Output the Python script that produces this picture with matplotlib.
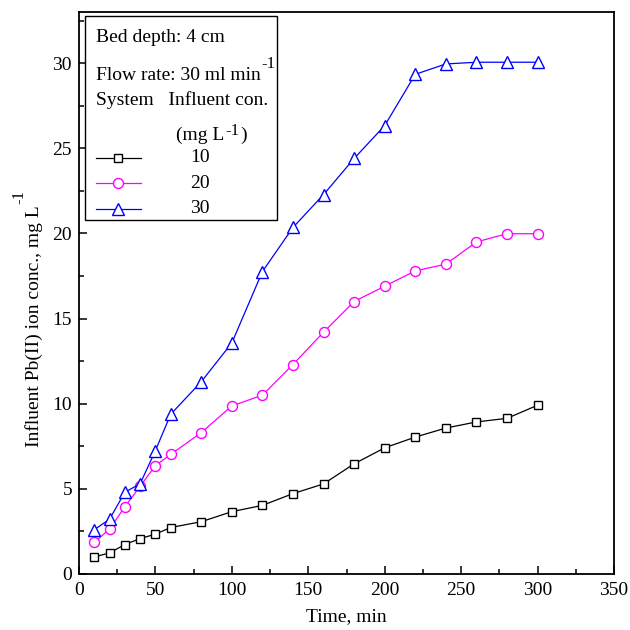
import matplotlib
matplotlib.use("Agg")
import matplotlib.pyplot as plt
from matplotlib.lines import Line2D
from matplotlib.patches import Rectangle

plt.rcParams['font.family'] = ['Liberation Serif', 'DejaVu Serif']

time = [10, 20, 30, 40, 50, 60, 80, 100, 120, 140, 160, 180, 200, 220, 240, 260, 280, 300]
c10 = [1.0, 1.24, 1.73, 2.08, 2.34, 2.73, 3.07, 3.66, 4.03, 4.72, 5.29, 6.47, 7.41, 8.04, 8.57, 8.93, 9.14, 9.91]
c20 = [1.85, 2.64, 3.95, 5.15, 6.37, 7.02, 8.3, 9.87, 10.5, 12.3, 14.2, 16.0, 16.9, 17.8, 18.19, 19.5, 19.98, 19.98]
c30 = [2.6, 3.22, 4.8, 5.3, 7.25, 9.38, 11.29, 13.57, 17.76, 20.35, 22.28, 24.4, 26.33, 29.34, 29.95, 30.05, 30.05, 30.05]
labels = ['10', '20', '30']
colors = ['black', '#FF00FF', '#0000FF']
markers = ['s', 'o', '^']
msizes = [6.2, 7.2, 8.5]

W = 630
fig = plt.figure(figsize=(6.3, 6.3), dpi=100)
ax = fig.add_axes([79/W, 1 - 574/W, (614-79)/W, (574-12)/W])

for y, c, m, ms in zip([c10, c20, c30], colors, markers, msizes):
    ax.plot(time, y, color=c, lw=0.9, marker=m, ms=ms, mfc='white', mec=c, mew=1.0)

ax.set_xlim(0, 350)
ax.set_ylim(0, 33)
ax.set_xticks(range(0, 351, 50))
ax.set_xticks(range(25, 351, 50), minor=True)
ax.set_yticks(range(0, 31, 5))
ax.set_yticks([2.5 + 5*i for i in range(7)], minor=True)
ax.tick_params(which='both', direction='in', labelsize=14, width=1.1)
ax.tick_params(which='major', length=6)
ax.tick_params(which='minor', length=3.5)
ax.tick_params(axis='x', pad=6)
ax.tick_params(axis='y', pad=5)
for s in ax.spines.values():
    s.set_linewidth(1.3)

ax.set_xlabel('Time, min', fontsize=14, labelpad=6)

def F(px, py):
    return px/W, 1 - py/W

fs = 14
sfs = 12

# y label (with raised "-1")
ylab = fig.text(*F(39, 447), 'Influent Pb(II) ion conc., mg L', fontsize=fs, rotation=90,
                rotation_mode='anchor', ha='left', va='baseline')

# legend box
x0, y0 = F(85, 220)
x1, y1 = F(277, 16)
fig.patches.append(Rectangle((x0, y0), x1 - x0, y1 - y0, transform=fig.transFigure,
                             facecolor='white', edgecolor='black', lw=1.0, zorder=5))
fig.text(*F(96, 42), 'Bed depth: 4 cm', fontsize=fs, va='baseline', ha='left', zorder=6)
flow = fig.text(*F(96, 80), 'Flow rate: 30 ml min', fontsize=fs, va='baseline', ha='left', zorder=6)
fig.text(*F(96, 105), 'System   Influent con.', fontsize=fs, va='baseline', ha='left', zorder=6)
mg = fig.text(*F(176, 140), '(mg L', fontsize=fs, va='baseline', ha='left', zorder=6)
for i, (lab, c, m, ms) in enumerate(zip(labels, colors, markers, msizes)):
    py = [158, 183, 209][i]
    xa, ya = F(96, py)
    xb, _ = F(141, py)
    fig.lines.append(Line2D([xa, xb], [ya, ya], transform=fig.transFigure, color=c, lw=0.9, zorder=6))
    xm, _ = F(118, py)
    fig.lines.append(Line2D([xm], [ya], transform=fig.transFigure, color=c, marker=m, ms=ms,
                            mfc='white', mec=c, mew=1.0, zorder=7))
    fig.text(*F(200, py), lab, fontsize=fs, va='center', ha='center', zorder=6)

# superscripts positioned from rendered extents
fig.canvas.draw()
r = fig.canvas.get_renderer()
e = flow.get_window_extent(r)
fig.text((e.x1 + 1)/W, (W - 68)/W, '-1', fontsize=sfs, va='baseline', ha='left', zorder=6)
e = mg.get_window_extent(r)
sup = fig.text((e.x1 + 1)/W, (W - 135)/W, '-1', fontsize=sfs, va='baseline', ha='left', zorder=6)
fig.canvas.draw()
e2 = sup.get_window_extent(r)
fig.text((e2.x1 + 1)/W, (W - 140)/W, ')', fontsize=fs, va='baseline', ha='left', zorder=6)
e = ylab.get_window_extent(r)
fig.text((39 - 16)/W, (e.y1 + 1)/W, '-1', fontsize=sfs, rotation=90, rotation_mode='anchor',
         ha='left', va='baseline')

fig.savefig('out.png', dpi=100)
